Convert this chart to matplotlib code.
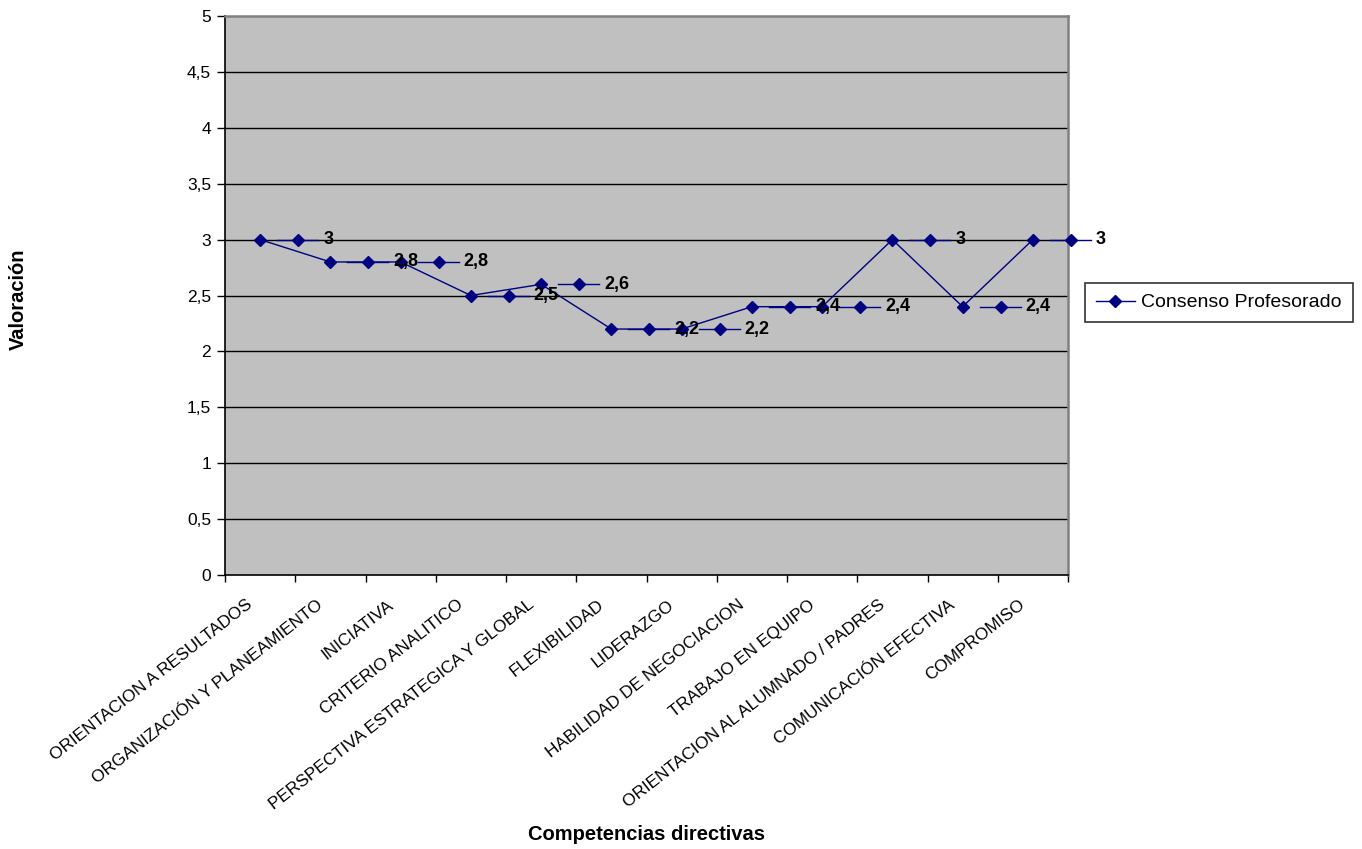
import matplotlib
matplotlib.use("Agg")
import matplotlib.pyplot as plt
from matplotlib.lines import Line2D
from matplotlib.transforms import ScaledTranslation

plt.rcParams['font.family'] = ['Liberation Sans', 'DejaVu Sans']

categories = [
    "ORIENTACION A RESULTADOS",
    "ORGANIZACIÓN Y PLANEAMIENTO",
    "INICIATIVA",
    "CRITERIO ANALITICO",
    "PERSPECTIVA ESTRATEGICA Y GLOBAL",
    "FLEXIBILIDAD",
    "LIDERAZGO",
    "HABILIDAD DE NEGOCIACION",
    "TRABAJO EN EQUIPO",
    "ORIENTACION AL ALUMNADO / PADRES",
    "COMUNICACIÓN EFECTIVA",
    "COMPROMISO",
]
consenso = [3.0, 2.8, 2.8, 2.5, 2.6, 2.2, 2.2, 2.4, 2.4, 3.0, 2.4, 3.0]
y_ticks = [0, 0.5, 1, 1.5, 2, 2.5, 3, 3.5, 4, 4.5, 5]

series_color = "#000080"
W, H, DPI = 1362, 849, 100

fig = plt.figure(figsize=(W / DPI, H / DPI), dpi=DPI)
fig.patch.set_facecolor("white")
ax = fig.add_axes([225 / W, 1 - 575 / H, (1068 - 225) / W, (575 - 16) / H])
ax.set_facecolor("#C0C0C0")


def px(dx, dy=0):
    """Offset by a number of pixels."""
    return ScaledTranslation(dx / DPI, dy / DPI, fig.dpi_scale_trans)


def fmt(v):
    return ("%g" % v).replace(".", ",")


x = list(range(len(categories)))
line, = ax.plot(x, consenso, color=series_color, lw=1, marker="D", ms=6,
                mec=series_color, mfc=series_color, zorder=4,
                label="Consenso Profesorado")

ax.set_xlim(-0.5, len(categories) - 0.5)
ax.set_ylim(0, 5)

# horizontal gridlines
for yv in y_ticks[1:-1]:
    ax.axhline(yv, color="black", lw=1, zorder=1)

# plot-area border
for s in ("left", "bottom"):
    ax.spines[s].set_color("black")
    ax.spines[s].set_linewidth(1.2)
for s in ("top", "right"):
    ax.spines[s].set_color("#808080")
    ax.spines[s].set_linewidth(1.8)

# y axis
ax.set_yticks(y_ticks)
ax.set_yticklabels([fmt(v) for v in y_ticks], fontsize=12.5)
ax.tick_params(axis="y", direction="out", length=6, width=1, pad=4)

# x axis: ticks on category boundaries, labels at category centres
ax.set_xticks([i - 0.5 for i in range(len(categories) + 1)])
ax.set_xticklabels([])
ax.tick_params(axis="x", direction="out", length=5, width=1)

for i, name in enumerate(categories):
    ax.text(i, 0, name, rotation=38, rotation_mode="anchor", ha="right", va="top",
            fontsize=12.4, transform=ax.transData + px(-14, -22), clip_on=False)

# data labels: legend key (line + marker) followed by the value
for i, v in enumerate(consenso):
    seg = Line2D([0, 41 / DPI], [0, 0], color=series_color, lw=1, clip_on=False,
                 zorder=5)
    seg.set_transform(fig.dpi_scale_trans + ScaledTranslation(i, v, ax.transData)
                      + px(17))
    ax.add_line(seg)
    ax.plot([i], [v], transform=ax.transData + px(38), marker="D", ms=6,
            color=series_color, zorder=5, clip_on=False)
    ax.text(i, v, fmt(v), transform=ax.transData + px(63), ha="left", va="center",
            fontsize=13, fontweight="bold", zorder=6, clip_on=False)

fig.text(18 / W, 1 - 299 / H, "Valoración", rotation=90, ha="center", va="center",
         fontsize=14.5, fontweight="bold")
fig.text(647 / W, 1 - 835 / H, "Competencias directivas", ha="center", va="center",
         fontsize=14.5, fontweight="bold")

leg = fig.legend(handles=[line], loc="center left",
                 bbox_to_anchor=(1085 / W, 1 - 302.5 / H), frameon=True, fancybox=False,
                 edgecolor="black", fontsize=14, handlelength=2.0, borderpad=0.55,
                 handletextpad=0.35, borderaxespad=0)
leg.get_frame().set_linewidth(1.2)

fig.savefig("out.png", dpi=DPI, facecolor="white")
